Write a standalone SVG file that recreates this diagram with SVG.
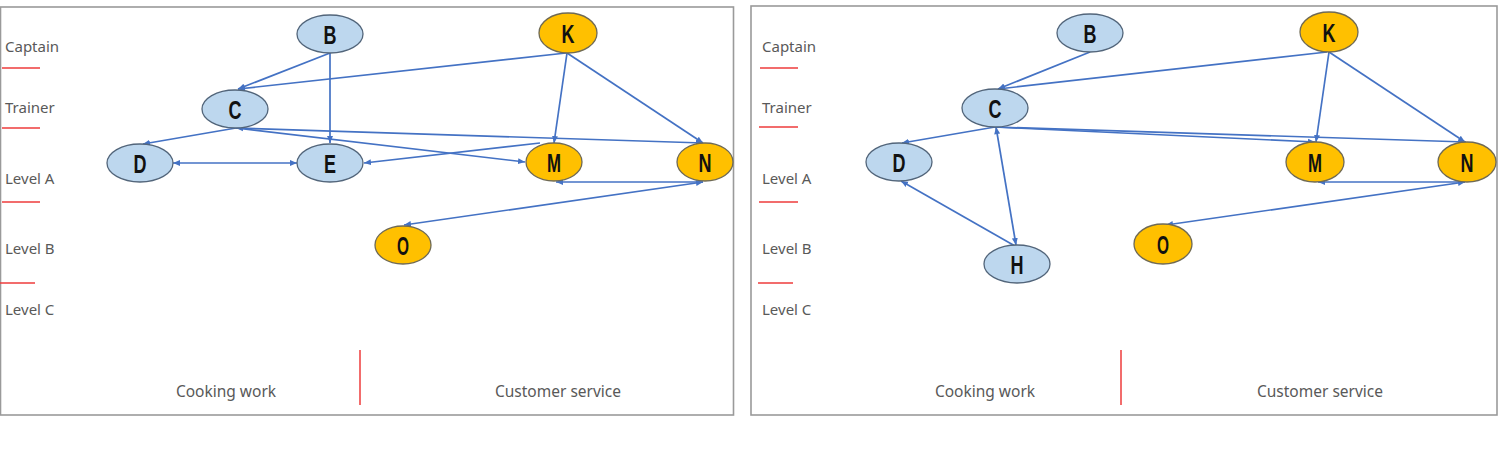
<svg xmlns="http://www.w3.org/2000/svg" width="1499" height="449" viewBox="0 0 1499 449">
<style>
.frame{fill:#fff;stroke:#9a9a9a;stroke-width:1.6}
.lbl{font-family:"Noto Sans","Liberation Sans",sans-serif;font-size:15px;fill:#595959}
.foot{font-family:"Noto Sans","Liberation Sans",sans-serif;font-size:15.5px;fill:#595959;text-anchor:middle}
.rl{stroke:#ee3b3b;stroke-width:1.5}
.blue{fill:#bdd7ee;stroke:#52657a;stroke-width:1.3}
.org{fill:#ffc000;stroke:#6f6a55;stroke-width:1.3}
.nt{font-family:"Liberation Sans",sans-serif;font-size:26px;font-weight:bold;fill:#111;text-anchor:middle}
.e{fill:none;stroke:#4472c4;stroke-width:1.7}
</style>
<defs>
<marker id="ah" markerUnits="userSpaceOnUse" markerWidth="8" markerHeight="8" refX="7" refY="4" orient="auto">
<path d="M0,1 L7,4 L0,7 Z" fill="#4472c4"/>
</marker>
<marker id="as" markerUnits="userSpaceOnUse" markerWidth="8" markerHeight="8" refX="0" refY="4" orient="auto">
<path d="M7,1 L0,4 L7,7 Z" fill="#4472c4"/>
</marker>
</defs>
<rect width="1499" height="449" fill="#fff"/>
<g id="panel-a-frame">
<rect class="frame" x="0.5" y="7" width="733" height="408"/>
<text class="lbl" x="5" y="52">Captain</text>
<line class="rl" x1="2" y1="68" x2="40" y2="68"/>
<text class="lbl" x="5" y="113">Trainer</text>
<line class="rl" x1="2" y1="128" x2="40" y2="128"/>
<text class="lbl" x="5" y="184">Level A</text>
<line class="rl" x1="2" y1="202" x2="40" y2="202"/>
<text class="lbl" x="5" y="254">Level B</text>
<line class="rl" x1="0" y1="283" x2="35" y2="283"/>
<text class="lbl" x="5" y="315">Level C</text>
<line class="rl" x1="360" y1="350" x2="360" y2="405"/>
<text class="foot" x="226" y="397">Cooking work</text>
<text class="foot" x="558" y="397">Customer service</text>
</g>
<g id="panel-b-frame">
<rect class="frame" x="751" y="6" width="746" height="409"/>
<text class="lbl" x="762" y="52">Captain</text>
<line class="rl" x1="760" y1="68" x2="798" y2="68"/>
<text class="lbl" x="762" y="113">Trainer</text>
<line class="rl" x1="759" y1="127" x2="798" y2="127"/>
<text class="lbl" x="762" y="184">Level A</text>
<line class="rl" x1="759" y1="202" x2="798" y2="202"/>
<text class="lbl" x="762" y="254">Level B</text>
<line class="rl" x1="758" y1="283" x2="793" y2="283"/>
<text class="lbl" x="762" y="315">Level C</text>
<line class="rl" x1="1121" y1="350" x2="1121" y2="405"/>
<text class="foot" x="985" y="397">Cooking work</text>
<text class="foot" x="1320" y="397">Customer service</text>
</g>
<g id="connectors">
<path class="e" d="M330,53 L238,89" marker-end="url(#ah)"/>
<path class="e" d="M330,53 L330,143" marker-end="url(#ah)"/>
<path class="e" d="M566,53 L238,89" marker-end="url(#ah)"/>
<path class="e" d="M567,53 L554,143" marker-end="url(#ah)"/>
<path class="e" d="M567,53 L703,143" marker-end="url(#ah)"/>
<path class="e" d="M236,128 L143,144" marker-end="url(#ah)"/>
<path class="e" d="M236,128 L703,143" marker-start="url(#as)" marker-end="url(#ah)"/>
<path class="e" d="M236,128 L525,162" marker-end="url(#ah)"/>
<path class="e" d="M540,143 L364,163" marker-end="url(#ah)"/>
<path class="e" d="M173,163 L297,163" marker-start="url(#as)" marker-end="url(#ah)"/>
<path class="e" d="M703,182 L556,182" marker-end="url(#ah)"/>
<path class="e" d="M703,182 L404,225" marker-start="url(#as)" marker-end="url(#ah)"/>
<path class="e" d="M1090,52 L998,89" marker-end="url(#ah)"/>
<path class="e" d="M1327,52 L998,89" marker-end="url(#ah)"/>
<path class="e" d="M1329,52 L1316,142" marker-end="url(#ah)"/>
<path class="e" d="M1329,52 L1465,142" marker-end="url(#ah)"/>
<path class="e" d="M995,127 L902,143" marker-end="url(#ah)"/>
<path class="e" d="M995,127 L1315,142" marker-end="url(#ah)"/>
<path class="e" d="M995,127 L1466,142" marker-end="url(#ah)"/>
<path class="e" d="M996,127 L1016,245" marker-start="url(#as)" marker-end="url(#ah)"/>
<path class="e" d="M1015,246 L901,181" marker-end="url(#ah)"/>
<path class="e" d="M1465,182 L1318,182" marker-end="url(#ah)"/>
<path class="e" d="M1465,182 L1166,225" marker-start="url(#as)" marker-end="url(#ah)"/>
</g>
<g id="a-B"><ellipse class="blue" cx="330" cy="34" rx="33" ry="19"/><text class="nt" x="330" y="44" textLength="13" lengthAdjust="spacingAndGlyphs">B</text></g>
<g id="a-C"><ellipse class="blue" cx="235" cy="109" rx="33" ry="19"/><text class="nt" x="235" y="119" textLength="13" lengthAdjust="spacingAndGlyphs">C</text></g>
<g id="a-D"><ellipse class="blue" cx="140" cy="163" rx="33" ry="19"/><text class="nt" x="140" y="173" textLength="13" lengthAdjust="spacingAndGlyphs">D</text></g>
<g id="a-E"><ellipse class="blue" cx="330" cy="163" rx="33" ry="19"/><text class="nt" x="330" y="173" textLength="12" lengthAdjust="spacingAndGlyphs">E</text></g>
<g id="a-K"><ellipse class="org" cx="568" cy="33" rx="29" ry="20"/><text class="nt" x="568" y="43" textLength="13" lengthAdjust="spacingAndGlyphs">K</text></g>
<g id="a-M"><ellipse class="org" cx="554" cy="162" rx="28" ry="19"/><text class="nt" x="554" y="172" textLength="14" lengthAdjust="spacingAndGlyphs">M</text></g>
<g id="a-N"><ellipse class="org" cx="705" cy="162" rx="28" ry="19"/><text class="nt" x="705" y="172" textLength="13" lengthAdjust="spacingAndGlyphs">N</text></g>
<g id="a-O"><ellipse class="org" cx="403" cy="245" rx="28" ry="19"/><text class="nt" x="403" y="255" textLength="12" lengthAdjust="spacingAndGlyphs">O</text></g>
<g id="b-B"><ellipse class="blue" cx="1090" cy="33" rx="33" ry="19"/><text class="nt" x="1090" y="43" textLength="13" lengthAdjust="spacingAndGlyphs">B</text></g>
<g id="b-C"><ellipse class="blue" cx="995" cy="108" rx="33" ry="19"/><text class="nt" x="995" y="118" textLength="13" lengthAdjust="spacingAndGlyphs">C</text></g>
<g id="b-D"><ellipse class="blue" cx="899" cy="162" rx="33" ry="19"/><text class="nt" x="899" y="172" textLength="13" lengthAdjust="spacingAndGlyphs">D</text></g>
<g id="b-H"><ellipse class="blue" cx="1017" cy="264" rx="33" ry="19"/><text class="nt" x="1017" y="274" textLength="13" lengthAdjust="spacingAndGlyphs">H</text></g>
<g id="b-K"><ellipse class="org" cx="1329" cy="32" rx="29" ry="20"/><text class="nt" x="1329" y="42" textLength="13" lengthAdjust="spacingAndGlyphs">K</text></g>
<g id="b-M"><ellipse class="org" cx="1315" cy="162" rx="29" ry="20"/><text class="nt" x="1315" y="172" textLength="14" lengthAdjust="spacingAndGlyphs">M</text></g>
<g id="b-N"><ellipse class="org" cx="1467" cy="162" rx="29" ry="20"/><text class="nt" x="1467" y="172" textLength="13" lengthAdjust="spacingAndGlyphs">N</text></g>
<g id="b-O"><ellipse class="org" cx="1163" cy="244" rx="29" ry="20"/><text class="nt" x="1163" y="254" textLength="12" lengthAdjust="spacingAndGlyphs">O</text></g>
</svg>
